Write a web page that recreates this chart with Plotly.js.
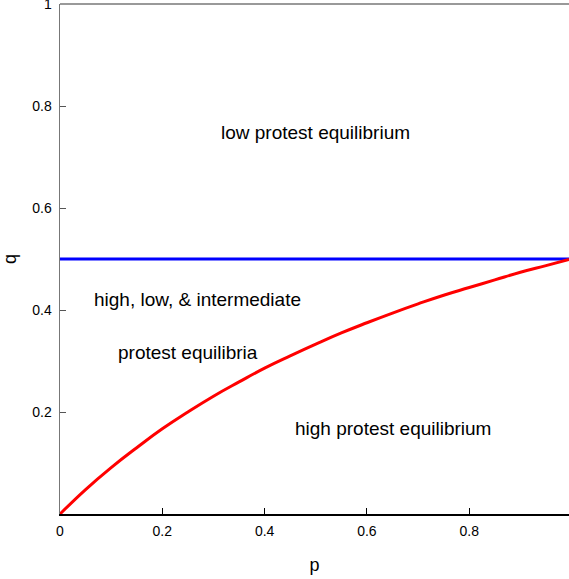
<!DOCTYPE html>
<html>
<head>
<meta charset="utf-8">
<script src="https://cdn.plot.ly/plotly-3.0.1.min.js"></script>
<style>html,body{margin:0;padding:0;background:#fff;}#chart{width:569px;height:579px;}</style>
</head>
<body>
<div id="chart"></div>
<script>
// boundary curve (red)
var curveP = [0, 0.05, 0.1, 0.15, 0.2, 0.25, 0.3, 0.35, 0.4, 0.45, 0.5, 0.55, 0.6, 0.65, 0.7, 0.75, 0.8, 0.85, 0.9, 0.95, 0.995];
var curveQ = [0, 0.048, 0.091, 0.130, 0.167, 0.200, 0.231, 0.259, 0.286, 0.310, 0.333, 0.355, 0.375, 0.394, 0.412, 0.429, 0.444, 0.459, 0.474, 0.487, 0.499];
// horizontal threshold (blue)
var lineP = [0, 0.995];
var lineQ = [0.5, 0.5];
// region labels
var labelText = ["low protest equilibrium", "high, low, &amp; intermediate", "protest equilibria", "high protest equilibrium"];
var labelP = [0.5, 0.269, 0.25, 0.65];
var labelQ = [0.749, 0.42, 0.316, 0.167];
var xTicks = [0, 0.2, 0.4, 0.6, 0.8];
var xTickText = ["0", "0.2", "0.4", "0.6", "0.8"];
var yTicks = [0.2, 0.4, 0.6, 0.8, 1];
var yTickText = ["0.2", "0.4", "0.6", "0.8", "1"];

var traces = [
  {x: lineP, y: lineQ, mode: 'lines', line: {color: '#0000ff', width: 3}, hoverinfo: 'skip'},
  {x: curveP, y: curveQ, mode: 'lines', line: {color: '#ff0000', width: 3, shape: 'spline', smoothing: 1.3}, hoverinfo: 'skip'}
];
var annotations = labelText.map(function(t, i){
  return {x: labelP[i], y: labelQ[i], xref: 'x', yref: 'y', text: t, showarrow: false,
          font: {family: 'Liberation Sans, Arial, sans-serif', size: 19, color: '#000'}};
});
var layout = {
  width: 569, height: 579,
  margin: {l: 60, r: 0, t: 4, b: 65},
  paper_bgcolor: '#fff', plot_bgcolor: '#fff',
  showlegend: false,
  font: {family: 'Liberation Sans, Arial, sans-serif', size: 14, color: '#000'},
  xaxis: {range: [0, 0.995], tickvals: xTicks, ticktext: xTickText, ticks: 'inside', ticklen: 6,
          tickcolor: '#000', showline: true, linecolor: '#000', linewidth: 1.5, showgrid: false, zeroline: false,
          ticklabelstandoff: 4, tickfont: {size: 14},
          title: {text: 'p', font: {size: 18}, standoff: 20}, fixedrange: true},
  yaxis: {range: [0, 1], tickvals: yTicks, ticktext: yTickText, ticks: 'inside', ticklen: 6,
          tickcolor: '#555', showline: true, linecolor: '#777', linewidth: 1.5, showgrid: false, zeroline: false,
          ticklabeloverflow: 'allow', ticklabelstandoff: 4, tickfont: {size: 14},
          title: {text: 'q', font: {size: 18}, standoff: 15}, fixedrange: true},
  shapes: [{type: 'line', xref: 'paper', yref: 'paper', x0: 0, x1: 1, y0: 1, y1: 1, line: {color: '#777', width: 1.5}}],
  annotations: annotations
};
Plotly.newPlot('chart', traces, layout, {displayModeBar: false, staticPlot: true});
</script>
</body>
</html>
